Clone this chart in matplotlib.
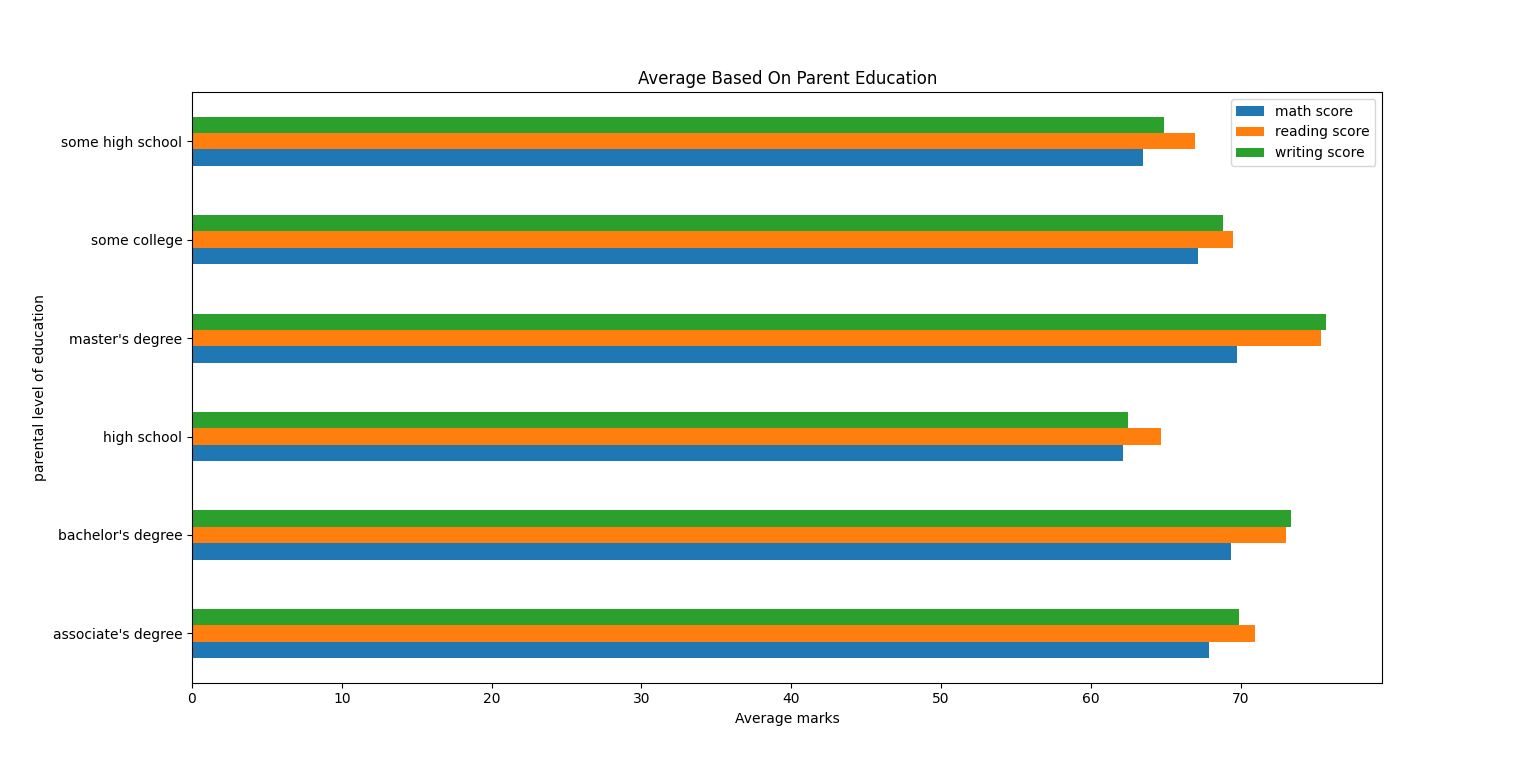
import matplotlib
matplotlib.use("Agg")
import matplotlib.pyplot as plt
import numpy as np

levels = ["associate's degree", "bachelor's degree", "high school",
          "master's degree", "some college", "some high school"]
math_score = [67.88, 69.39, 62.14, 69.75, 67.13, 63.50]
reading_score = [70.93, 73.00, 64.70, 75.37, 69.46, 66.94]
writing_score = [69.90, 73.38, 62.45, 75.68, 68.84, 64.89]

series = [("math score", math_score, "#1f77b4"),
          ("reading score", reading_score, "#ff7f0e"),
          ("writing score", writing_score, "#2ca02c")]

fig, ax = plt.subplots(figsize=(15.36, 7.67), dpi=100)
y = np.arange(len(levels))
h = 0.5 / 3
for i, (name, vals, c) in enumerate(series):
    ax.barh(y + (i - 1) * h, vals, height=h, color=c, label=name)

ax.set_yticks(y)
ax.set_yticklabels(levels)
ax.set_ylim(-0.5, len(levels) - 0.5)
ax.set_xlim(0, max(writing_score) * 1.05)
ax.set_title("Average Based On Parent Education")
ax.set_xlabel("Average marks")
ax.set_ylabel("parental level of education")
ax.legend(loc="upper right")
fig.savefig("out.png")
